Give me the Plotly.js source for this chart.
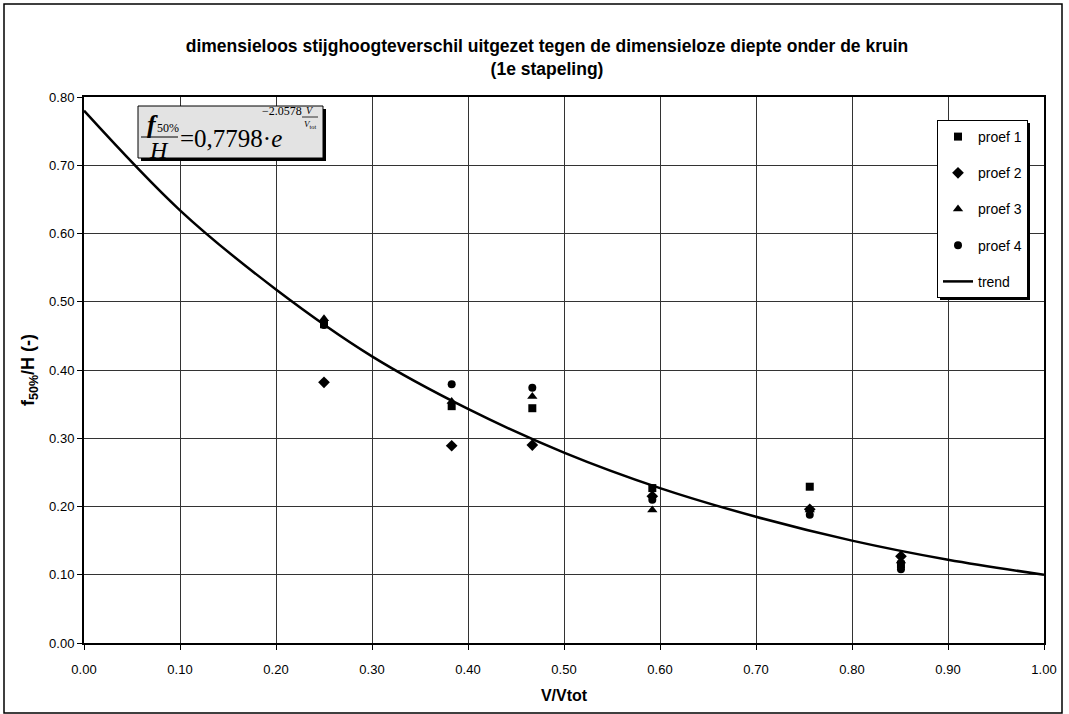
<!DOCTYPE html>
<html>
<head>
<meta charset="utf-8">
<script src="https://cdn.plot.ly/plotly-3.0.1.min.js"></script>
<style>html,body{margin:0;padding:0;background:#fff;}#chart{width:1069px;height:714px;}</style>
</head>
<body>
<div id="chart"></div>
<script>
// ---- data ----
const xProef1 = [0.25, 0.383, 0.467, 0.592, 0.756, 0.851];
const yProef1 = [0.467, 0.347, 0.344, 0.227, 0.229, 0.115];
const xProef2 = [0.25, 0.383, 0.467, 0.592, 0.756, 0.851];
const yProef2 = [0.382, 0.289, 0.290, 0.215, 0.196, 0.127];
const xProef3 = [0.25, 0.383, 0.467, 0.592, 0.756, 0.851];
const yProef3 = [0.475, 0.354, 0.361, 0.195, 0.195, 0.120];
const xProef4 = [0.25, 0.383, 0.467, 0.592, 0.756, 0.851];
const yProef4 = [0.466, 0.379, 0.374, 0.210, 0.188, 0.108];
const xTrend = [0.00, 0.10, 0.20, 0.30, 0.40, 0.50, 0.60, 0.70, 0.80, 0.90, 1.00];
const yTrend = [0.780, 0.634, 0.518, 0.420, 0.343, 0.279, 0.227, 0.185, 0.150, 0.122, 0.100];
const xTicks = [0,0.1,0.2,0.3,0.4,0.5,0.6,0.7,0.8,0.9,1.0];
const yTicks = [0,0.1,0.2,0.3,0.4,0.5,0.6,0.7,0.8];
const seriesNames = ['proef 1','proef 2','proef 3','proef 4','trend'];

// plot area in pixels
const L = 84, R = 1044, T = 97, B = 643;
const px = x => (x - L) / (R - L);
const py = y => (B - y) / (B - T);

const mk = (sym, size) => ({symbol: sym, size: size, color: '#000', line: {width: 0}});
const traces = [
  {x: xProef1, y: yProef1, name: seriesNames[0], mode: 'markers', marker: mk('square', 8), legendgroup: 'a'},
  {x: xProef2, y: yProef2, name: seriesNames[1], mode: 'markers', marker: mk('diamond', 9), legendgroup: 'b'},
  {x: xProef3, y: yProef3, name: seriesNames[2], mode: 'markers', marker: mk('triangle-up', 9), legendgroup: 'c'},
  {x: xProef4, y: yProef4, name: seriesNames[3], mode: 'markers', marker: mk('circle', 8), legendgroup: 'd'},
  {x: xTrend, y: yTrend, name: seriesNames[4], mode: 'lines', line: {color: '#000', width: 2.5, shape: 'spline', smoothing: 1}, legendgroup: 'e'}
];

const serif = 'Liberation Serif, Times New Roman, serif';
const ann = (x, y, text, size, extra) => Object.assign({
  xref: 'paper', yref: 'paper', x: px(x), y: py(y), text: text, showarrow: false,
  font: {family: serif, size: size, color: '#000'}, xanchor: 'center', yanchor: 'middle'
}, extra || {});

const layout = {
  width: 1069, height: 714,
  margin: {l: L, r: 1069 - R, t: T, b: 714 - B},
  paper_bgcolor: '#fff', plot_bgcolor: '#fff',
  font: {family: 'Arial, Liberation Sans, sans-serif', size: 13, color: '#000'},
  title: {
    text: '<b>dimensieloos stijghoogteverschil uitgezet tegen de dimensieloze diepte onder de kruin<br>(1e stapeling)</b>',
    font: {family: 'Arial, Liberation Sans, sans-serif', size: 17.5, color: '#000'},
    x: 547 / 1069, xanchor: 'center', y: 1 - 52 / 714, yanchor: 'middle'
  },
  xaxis: {
    range: [0, 1], tickvals: xTicks, tickformat: '.2f',
    showgrid: true, gridcolor: '#333', gridwidth: 1,
    showline: true, linecolor: '#000', linewidth: 2, mirror: true,
    ticks: 'outside', ticklen: 5, tickcolor: '#000',
    tickfont: {size: 13}, ticklabelstandoff: 8,
    zeroline: false, fixedrange: true,
    title: {text: '<b>V/Vtot</b>', font: {size: 16}, standoff: 14}
  },
  yaxis: {
    range: [0, 0.8], tickvals: yTicks, tickformat: '.2f',
    showgrid: true, gridcolor: '#333', gridwidth: 1,
    showline: true, linecolor: '#000', linewidth: 2, mirror: true,
    ticks: 'outside', ticklen: 5, tickcolor: '#000',
    tickfont: {size: 13},
    zeroline: false, fixedrange: true,
    title: {text: '<b>f<sub>50%</sub>/H (-)</b>', font: {size: 18}, standoff: 10}
  },
  showlegend: true,
  legend: {
    x: px(937), y: py(120), xanchor: 'left', yanchor: 'top',
    bgcolor: '#fff', bordercolor: '#000', borderwidth: 1,
    font: {size: 14}, tracegroupgap: 15, traceorder: 'grouped',
    itemwidth: 30
  },
  shapes: [
    // outer chart frame
    {type: 'rect', xref: 'paper', yref: 'paper', x0: px(4), x1: px(1062), y0: py(4), y1: py(713), line: {color: '#000', width: 1.5}, layer: 'below'},
    // legend shadow
    {type: 'rect', xref: 'paper', yref: 'paper', x0: px(940), x1: px(1030), y0: py(123), y1: py(300), fillcolor: '#000', line: {width: 0}, layer: 'above'},
    // equation box shadow and box
    {type: 'rect', xref: 'paper', yref: 'paper', x0: px(141), x1: px(326), y0: py(109), y1: py(161), fillcolor: '#000', line: {width: 0}, layer: 'above'},
    {type: 'rect', xref: 'paper', yref: 'paper', x0: px(138), x1: px(323), y0: py(106), y1: py(158), fillcolor: '#e3e3e3', line: {color: '#000', width: 1}, layer: 'above'},
    // fraction bars
    {type: 'line', xref: 'paper', yref: 'paper', x0: px(141), x1: px(178), y0: py(137), y1: py(137), line: {color: '#000', width: 1}, layer: 'above'},
    {type: 'line', xref: 'paper', yref: 'paper', x0: px(302), x1: px(318), y0: py(117), y1: py(117), line: {color: '#000', width: 0.8}, layer: 'above'}
  ],
  annotations: [
    ann(152, 124, '<b><i>f</i></b>', 26),
    ann(168, 128, '50%', 12),
    ann(159, 150, '<i>H</i>', 24),
    ann(178, 139, '=0,7798·<i>e</i>', 25, {xanchor: 'left'}),
    ann(282, 111, '−2.0578', 12),
    ann(310, 110, '<i>V</i>', 10),
    ann(310, 124, '<i>V</i><sub>tot</sub>', 9)
  ]
};

Plotly.newPlot('chart', traces, layout, {displayModeBar: false, staticPlot: true});
</script>
</body>
</html>
